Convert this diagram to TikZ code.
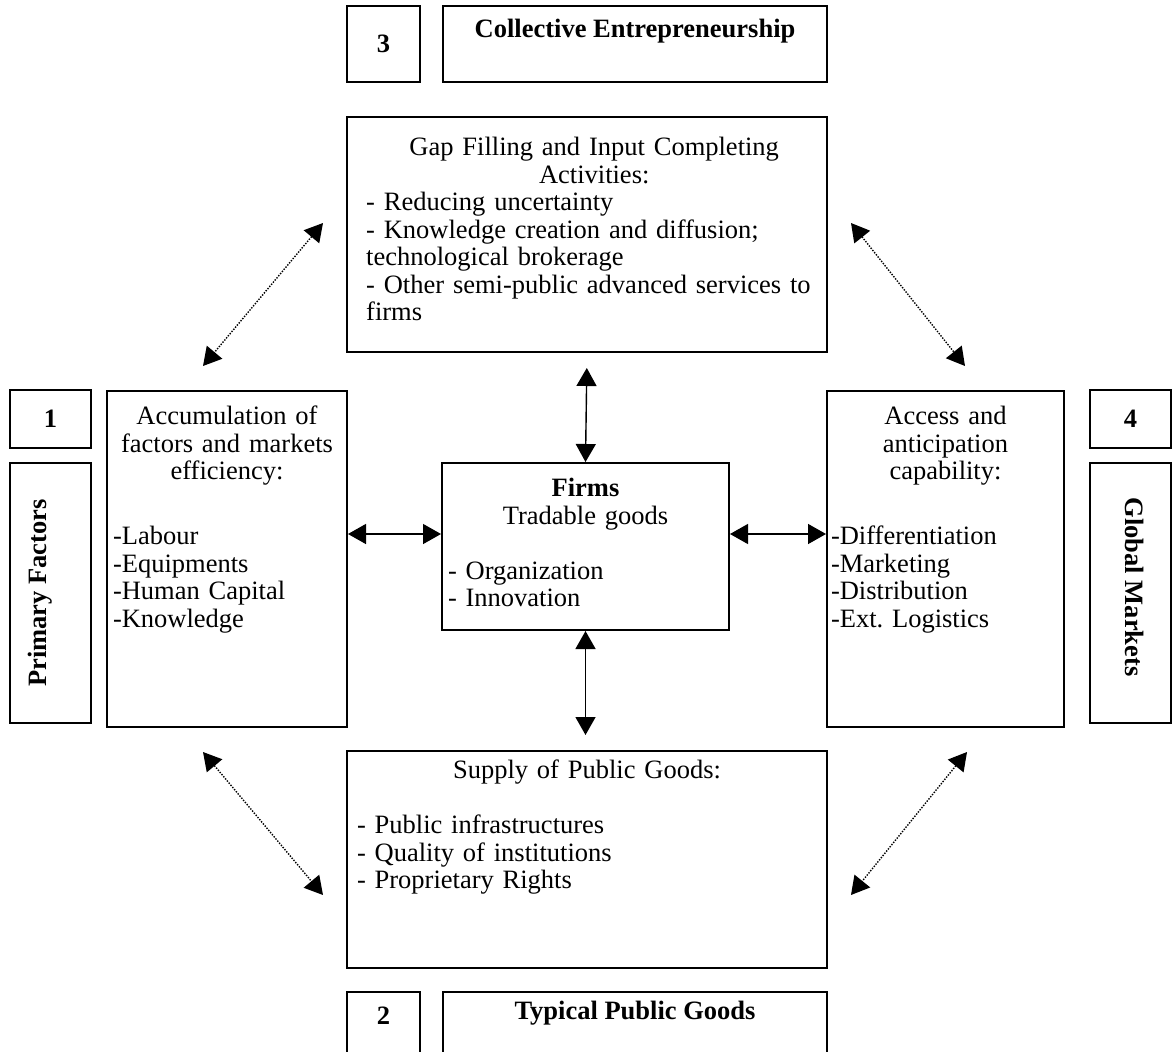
\documentclass[tikz,border=0pt]{standalone}
\usepackage{fontspec}
\setmainfont{Liberation Serif}
\usetikzlibrary{arrows.meta,positioning}

\tikzset{
  box/.style={draw, line width=2pt, inner sep=0pt},
  txt/.style={inner sep=0pt, align=left},
  twoway/.style={{Triangle[length=18pt,width=20pt]}-{Triangle[length=18pt,width=20pt]}, line width=1.4pt},
  dotway/.style={twoway, dash pattern=on 1.4pt off 1.4pt},
}

\begin{document}
\begin{tikzpicture}[x=1pt, y=-1pt, font=\fontsize{26.5}{27.5}\selectfont]
\useasboundingbox (0,0) rectangle (1174,1051);
\clip (0,0) rectangle (1174,1051);

% top: collective entrepreneurship
\node[box, minimum width=73pt, minimum height=76pt] (n3) at (383.5,44) {\bfseries 3};
\node[box, minimum width=384pt, minimum height=76pt] (ce) at (635,44) {};
\node[txt, below=14pt of ce.north] {\bfseries Collective Entrepreneurship};

\node[box, minimum width=480pt, minimum height=235pt] (gap) at (587,234.5) {};
\node[txt, text width=456pt, below right=21pt and 20pt of gap.north west] (gaptxt) {\centering Gap Filling and Input Completing\\Activities:\par
\raggedright - Reducing uncertainty\\- Knowledge creation and diffusion;\\technological brokerage\\- Other semi-public advanced services to\\firms};

% left: primary factors
\node[box, minimum width=81pt, minimum height=58pt] (n1) at (50.5,419) {\bfseries 1};
\node[box, minimum width=81pt, minimum height=260pt] (pf) at (50.5,593) {};
\node[rotate=90] at (40,593) {\bfseries Primary Factors};

\node[box, minimum width=240pt, minimum height=336pt] (acc) at (227,559) {};
\node[txt, text width=228pt, below=16pt of acc.north] (acctxt) {\centering Accumulation of\\factors and markets\\efficiency:\par\vspace{37.5pt}
\raggedright -Labour\\-Equipments\\-Human Capital\\-Knowledge};

% centre: firms
\node[box, minimum width=287pt, minimum height=167pt] (firms) at (585.5,546.5) {};
\node[txt, text width=275pt, below=16pt of firms.north] (firmstxt) {\centering\textbf{Firms}\\Tradable goods\par\mbox{}\par
\raggedright - Organization\\- Innovation};

% right: global markets
\node[box, minimum width=237pt, minimum height=336pt] (acs) at (945.5,559) {};
\node[txt, text width=229pt, below=16pt of acs.north] (acstxt) {\centering Access and\\anticipation\\capability:\par\vspace{37.5pt}
\raggedright -Differentiation\\-Marketing\\-Distribution\\-Ext.\ Logistics};

\node[box, minimum width=81pt, minimum height=58pt] (n4) at (1130.5,419) {\bfseries 4};
\node[box, minimum width=81pt, minimum height=260pt] (gm) at (1130.5,593) {};
\node[rotate=-90] at (1135,587) {\bfseries Global Markets};

% bottom: typical public goods
\node[box, minimum width=480pt, minimum height=217pt] (sup) at (587,859.5) {};
\node[txt, text width=460pt, below=10pt of sup.north] (suptxt) {\centering Supply of Public Goods:\par\mbox{}\par
\raggedright - Public infrastructures\\- Quality of institutions\\- Proprietary Rights};

\node[box, minimum width=73pt, minimum height=78pt] (n2) at (383.5,1031) {};
\node[txt, below=16pt of n2.north] {\bfseries 2};
\node[box, minimum width=384pt, minimum height=78pt] (tpg) at (635,1031) {};
\node[txt, below=10pt of tpg.north] {\bfseries Typical Public Goods};

% links
\coordinate (mid) at (587,534);
\draw[twoway, shorten <=15pt] (gap.south) -- (firms.north);
\draw[twoway, shorten >=15pt] (firms.south) -- (firms.south |- sup.north);
\draw[twoway] (acc.east |- mid) -- (firms.west |- mid);
\draw[twoway] (firms.east |- mid) -- (acs.west |- mid);

\coordinate (tl1) at (323,223);
\coordinate (tl2) at (203,366);
\coordinate (tr1) at (851,223);
\coordinate (tr2) at (965,366);
\coordinate (bl1) at (203,752);
\coordinate (bl2) at (323,895);
\coordinate (br1) at (967,752);
\coordinate (br2) at (851,895);
\draw[dotway] (tl1) -- (tl2);
\draw[dotway] (tr1) -- (tr2);
\draw[dotway] (bl1) -- (bl2);
\draw[dotway] (br1) -- (br2);

\end{tikzpicture}
\end{document}
